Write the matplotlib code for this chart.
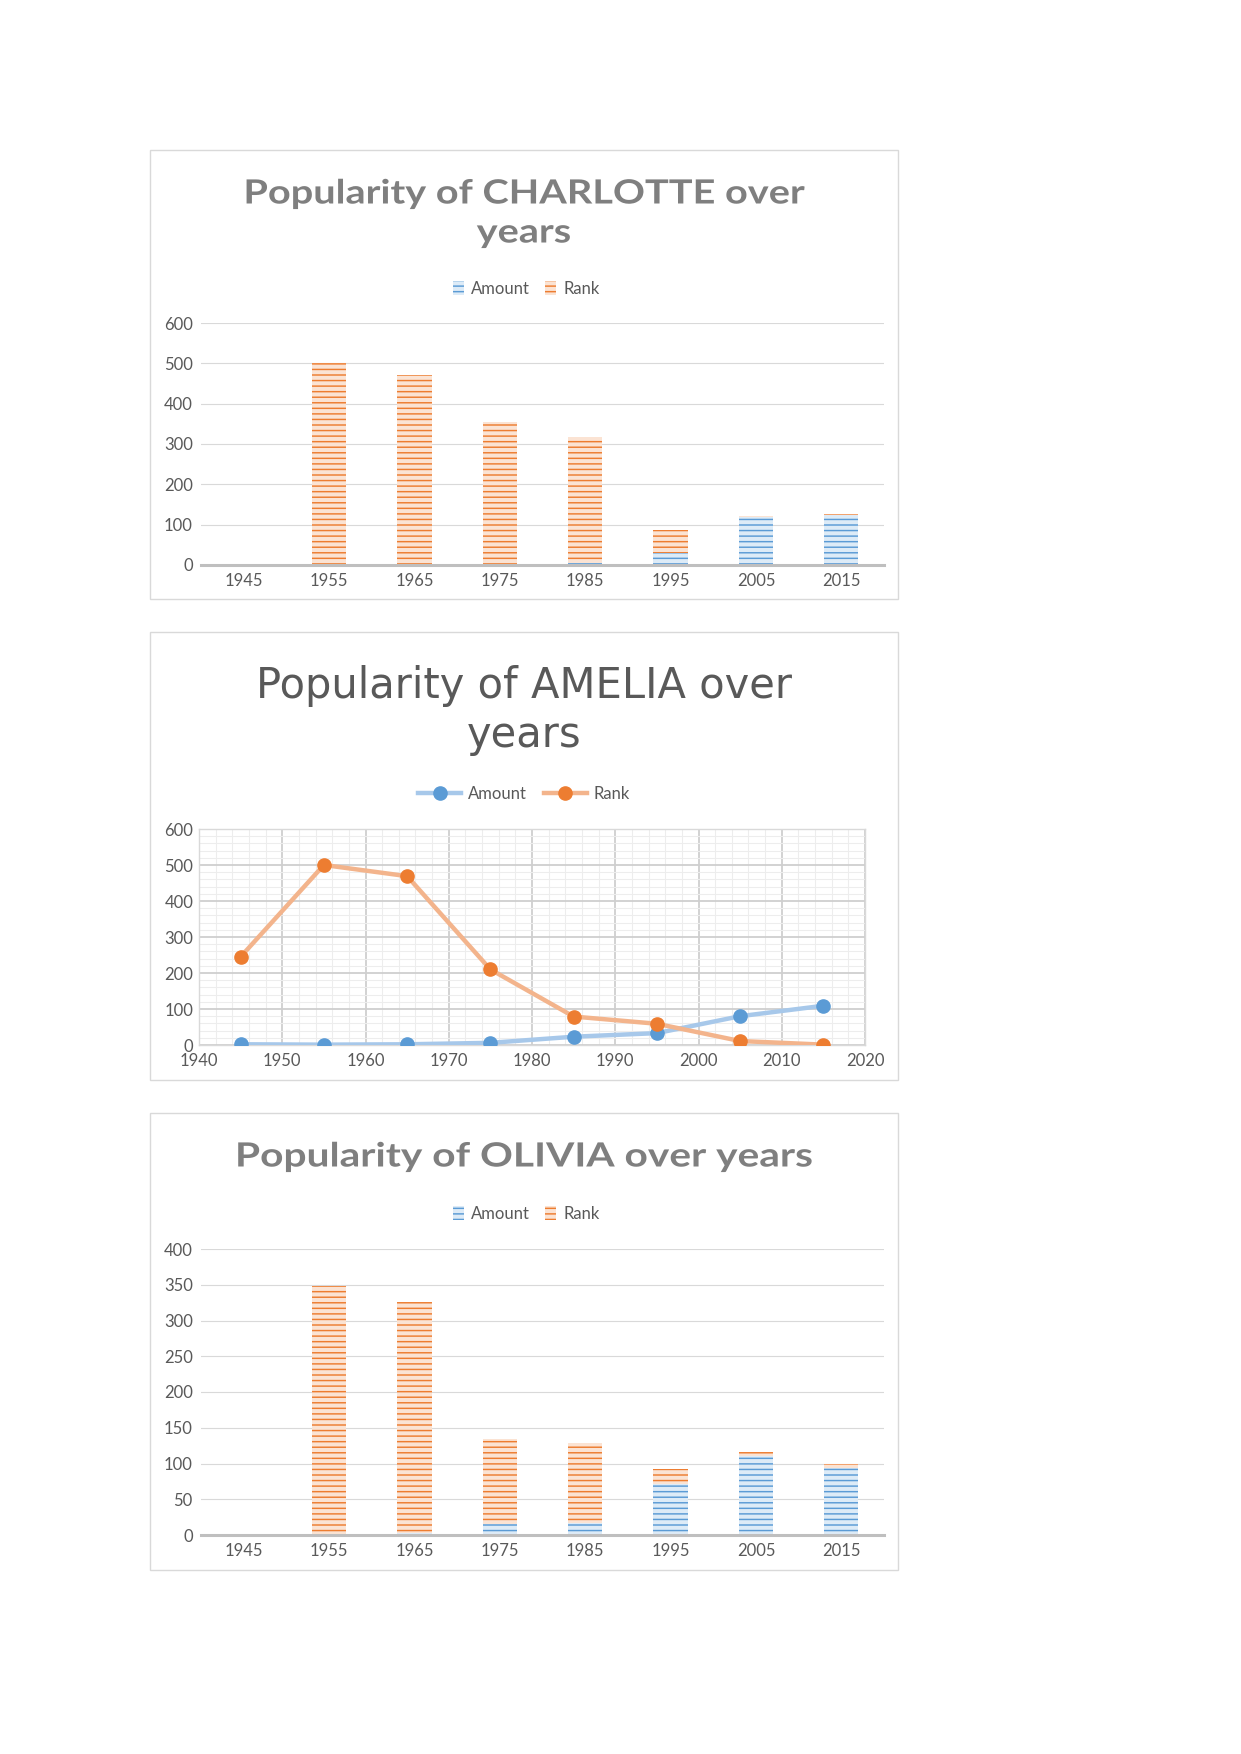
import matplotlib
matplotlib.use("Agg")
import matplotlib.pyplot as plt
from matplotlib.patches import Rectangle
from matplotlib.patheffects import AbstractPathEffect
from matplotlib.transforms import Affine2D
from matplotlib.ticker import MultipleLocator

# data
years = [1945, 1955, 1965, 1975, 1985, 1995, 2005, 2015]
year_labels = [str(y) for y in years]

charlotte_amount = [0, 1, 1, 2, 4, 30, 119, 125]
charlotte_rank = [0, 499, 471, 352, 314, 57, 2, 1]

amelia_amount = [2, 1, 2, 6, 23, 33, 80, 109]
amelia_rank = [245, 500, 469, 210, 79, 59, 11, 1]

olivia_amount = [0, 1, 3, 16, 17, 71, 110, 94]
olivia_rank = [0, 347, 323, 118, 112, 22, 6, 5]

W, H = 1241, 1754
BLUE, ORANGE = "#5B9BD5", "#ED7D31"
BLUE_FILL, ORANGE_FILL = "#DDEBF7", "#FBE3D3"
BLUE_LINE, ORANGE_LINE = "#A7C8EA", "#F3B48C"
TXT = "#595959"
GRID = "#D9D9D9"

plt.rcParams["font.family"] = ["Lato", "DejaVu Sans"]
plt.rcParams["hatch.linewidth"] = 1.05

fig = plt.figure(figsize=(W / 100, H / 100), dpi=100)


def fx(px):
    return px / W


def fy(py):
    return 1 - py / H


class Widen(AbstractPathEffect):
    # the chart titles are letter-spaced; stretch the text sideways around its centre
    def __init__(self, sx, cx):
        super().__init__()
        self.sx = sx
        self.cx = cx

    def draw_path(self, renderer, gc, tpath, affine, rgbFace=None):
        t = affine + Affine2D().translate(-self.cx, 0).scale(self.sx, 1).translate(self.cx, 0)
        renderer.draw_path(gc, tpath, t, rgbFace)


def box(top, bottom):
    fig.patches.append(Rectangle((fx(150), fy(bottom)), fx(898) - fx(150), fy(top) - fy(bottom),
                                 transform=fig.transFigure, fill=False, edgecolor=GRID, linewidth=1.0))


def bar_chart(rect, amount, rank, ymax, ystep, title_lines, title_y, legend_y, stretch):
    ax = fig.add_axes(rect)
    x = list(range(len(years)))
    ax.bar(x, amount, width=0.4, color=BLUE_FILL, edgecolor=BLUE, hatch="---", linewidth=0, label="Amount", zorder=3)
    ax.bar(x, rank, width=0.4, bottom=amount, color=ORANGE_FILL, edgecolor=ORANGE, hatch="---", linewidth=0,
           label="Rank", zorder=3)
    ax.set_xlim(-0.5, len(years) - 0.5)
    ax.set_ylim(0, ymax)
    ax.yaxis.set_major_locator(MultipleLocator(ystep))
    ax.set_xticks(x)
    ax.set_xticklabels(year_labels)
    ax.tick_params(length=0, labelsize=12, colors=TXT, pad=6)
    ax.grid(axis="y", color=GRID, linewidth=0.8, zorder=0)
    for s in ["left", "right", "top"]:
        ax.spines[s].set_visible(False)
    ax.spines["bottom"].set_color("#BFBFBF")
    ax.spines["bottom"].set_linewidth(2.2)
    ax.spines["bottom"].set_zorder(4)
    for txt, ty in zip(title_lines, title_y):
        fig.text(fx(524), fy(ty), txt, ha="center", va="center", fontsize=24, fontweight="bold", color="#7F7F7F",
                 path_effects=[Widen(stretch, 524)])
    ax.legend(loc="center", bbox_to_anchor=(fx(526), fy(legend_y)), bbox_transform=fig.transFigure, ncol=2,
              frameon=False, fontsize=12, labelcolor=TXT, handlelength=0.7, handleheight=0.9,
              handletextpad=0.4, columnspacing=0.9)
    return ax


# CHARLOTTE
box(150, 599)
bar_chart([fx(201), fy(565), fx(884) - fx(201), fy(323) - fy(565)], charlotte_amount, charlotte_rank,
          600, 100, ["Popularity of CHARLOTTE over", "years"], [194, 233], 289, 1.19)

# AMELIA
box(632, 1080)
ax = fig.add_axes([fx(199), fy(1045), fx(865) - fx(199), fy(829) - fy(1045)])
ax.plot(years, amelia_amount, color=BLUE_LINE, linewidth=3.2, marker="o", markersize=9.5,
        markerfacecolor=BLUE, markeredgecolor=BLUE, label="Amount", zorder=3)
ax.plot(years, amelia_rank, color=ORANGE_LINE, linewidth=3.2, marker="o", markersize=9.5,
        markerfacecolor=ORANGE, markeredgecolor=ORANGE, label="Rank", zorder=3)
ax.set_xlim(1940, 2020)
ax.set_ylim(0, 600)
ax.xaxis.set_major_locator(MultipleLocator(10))
ax.xaxis.set_minor_locator(MultipleLocator(2))
ax.yaxis.set_major_locator(MultipleLocator(100))
ax.yaxis.set_minor_locator(MultipleLocator(20))
ax.grid(which="major", color="#CFCFCF", linewidth=1.3, zorder=0)
ax.grid(which="minor", color="#EDEDED", linewidth=0.8, zorder=0)
ax.tick_params(which="both", length=0, labelsize=12, colors=TXT)
ax.tick_params(axis="x", pad=6)
ax.tick_params(axis="y", pad=4)
for s in ax.spines.values():
    s.set_color(GRID)
    s.set_linewidth(1.0)
fig.text(fx(524), fy(686), "Popularity of AMELIA over", ha="center", va="center", fontsize=30,
         color=TXT, family="DejaVu Sans")
fig.text(fx(524), fy(735), "years", ha="center", va="center", fontsize=30, color=TXT, family="DejaVu Sans")
ax.legend(loc="center", bbox_to_anchor=(fx(524), fy(794)), bbox_transform=fig.transFigure, ncol=2,
          frameon=False, fontsize=12, labelcolor=TXT, handlelength=2.6, handletextpad=0.4, columnspacing=1.0)

# OLIVIA
box(1113, 1570)
bar_chart([fx(201), fy(1535), fx(884) - fx(201), fy(1249) - fy(1535)], olivia_amount, olivia_rank,
          400, 50, ["Popularity of OLIVIA over years"], [1157], 1214, 1.22)

fig.savefig("out.png", dpi=100, facecolor="white")
